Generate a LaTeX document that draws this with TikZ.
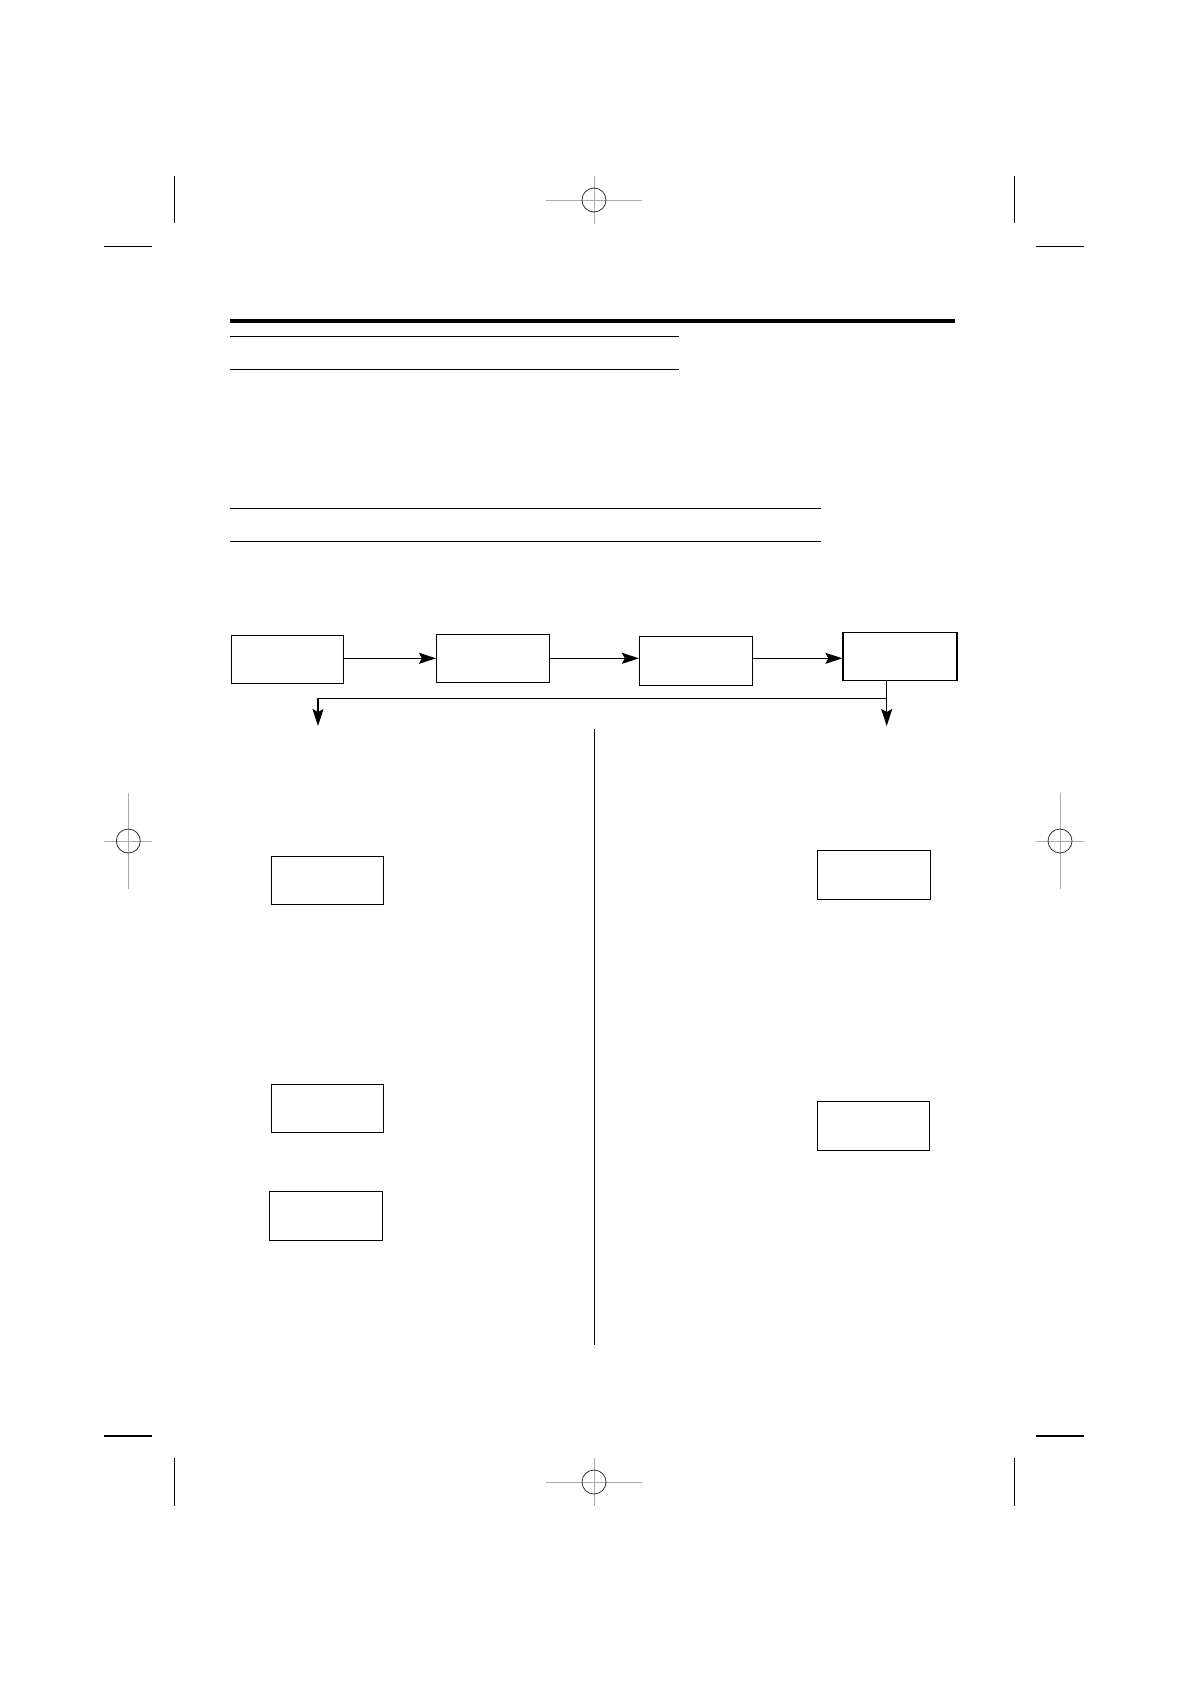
\documentclass[tikz,border=0pt]{standalone}
\usepackage{xcolor}
\usepackage{tikz}
\usetikzlibrary{arrows.meta,positioning,calc}

\tikzset{
  box/.style={draw, line width=1.3pt, minimum width=112pt, minimum height=48pt, inner sep=0pt},
  arr/.style={line width=1.3pt, -{Stealth[length=17pt,width=11pt,inset=3pt]}},
  rule/.style={line width=1.4pt},
  crop/.style={line width=1.4pt},
  regline/.style={gray!65, line width=1pt},
  regcirc/.style={black!80, line width=0.8pt}
}

\begin{document}
\begin{tikzpicture}[x=1pt,y=-1pt]
\useasboundingbox (0,0) rectangle (1190,1684);

% crop marks
\foreach \cx in {174.3,1014.3} {
  \draw[crop] (\cx,176) -- (\cx,223.3);
  \draw[crop] (\cx,1458.3) -- (\cx,1505.7);
}
\foreach \hx in {104,1036} {
  \draw[crop] (\hx,246.3) -- ++(48,0);
  \draw[crop] (\hx,1436) -- ++(48,0);
}

% registration marks
\foreach \rx/\ry/\w/\h in {594/200/48/24, 594/1482/48/24, 128.3/841/24/48, 1060/841/24/48} {
  \draw[regline] (\rx-\w,\ry) -- (\rx+\w,\ry);
  \draw[regline] (\rx,\ry-\h) -- (\rx,\ry+\h);
  \draw[regcirc] (\rx,\ry) circle (12);
}

% heading rules
\draw[line width=4pt] (230,321) -- (955,321);
\draw[rule] (230,336.5) -- (679,336.5);
\draw[rule] (230,369.5) -- (679,369.5);
\draw[rule] (230,508.5) -- (821,508.5);
\draw[rule] (230,541.3) -- (821,541.3);

% flow row
\node[box] (start) at (287.5,659.7) {};
\node[box, minimum width=113pt] (second) at (493.1,658.8) {};
\node[box, minimum width=113pt, minimum height=49pt] (third) at (696,660.8) {};
\node[box, minimum width=114pt] (fourth) at (900,656.8) {};

\coordinate (row) at (0,658.3);
\draw[arr] (start.east |- row) -- (second.west |- row);
\draw[arr] (second.east |- row) -- (third.west |- row);
\draw[arr] (third.east |- row) -- (fourth.west |- row);

\coordinate (fork) at (886.7,698.3);
\coordinate (tapL) at (318,698.3);
\coordinate (outL) at (318,726);
\coordinate (outR) at (886.7,726);
\draw[line width=1.3pt] (fourth.south -| fork) -- (fork) -- (tapL);
\draw[arr] (tapL) -- (outL);
\draw[arr] (fork) -- (outR);

% divider
\draw[line width=1.3pt] (594.4,729) -- (594.4,1345);

% left column
\node[box] (leftA) at (327.5,880.3) {};
\node[box] (leftB) at (327.5,1108.3) {};
\node[box, minimum width=113pt, minimum height=49pt] (leftC) at (326,1215.8) {};

% right column
\node[box, minimum width=113pt, minimum height=49pt] (rightA) at (874,874.8) {};
\node[box, minimum height=49pt] (rightB) at (873.5,1125.8) {};
\end{tikzpicture}
\end{document}
